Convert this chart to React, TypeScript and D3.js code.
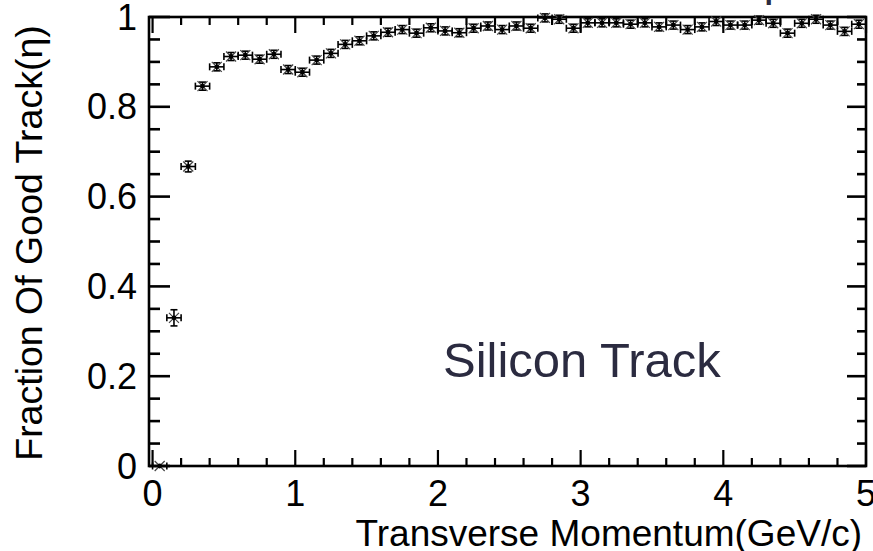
import React from "react";
import * as d3 from "d3";

const binCenters = [
  0.05, 0.15, 0.25, 0.35, 0.45, 0.55, 0.65, 0.75, 0.85, 0.95,
  1.05, 1.15, 1.25, 1.35, 1.45, 1.55, 1.65, 1.75, 1.85, 1.95,
  2.05, 2.15, 2.25, 2.35, 2.45, 2.55, 2.65, 2.75, 2.85, 2.95,
  3.05, 3.15, 3.25, 3.35, 3.45, 3.55, 3.65, 3.75, 3.85, 3.95,
  4.05, 4.15, 4.25, 4.35, 4.45, 4.55, 4.65, 4.75, 4.85, 4.95,
];
const fraction = [
  0.0, 0.33, 0.667, 0.846, 0.889, 0.912, 0.915, 0.906, 0.917, 0.883,
  0.877, 0.904, 0.919, 0.939, 0.947, 0.958, 0.966, 0.972, 0.964, 0.976,
  0.969, 0.965, 0.975, 0.98, 0.972, 0.98, 0.975, 0.998, 0.995, 0.975,
  0.987, 0.987, 0.987, 0.984, 0.987, 0.978, 0.982, 0.972, 0.978, 0.99,
  0.982, 0.982, 0.993, 0.986, 0.964, 0.986, 0.995, 0.982, 0.968, 0.984,
];
const fractionErr = [
  0.0, 0.018, 0.012, 0.009, 0.008, 0.008, 0.008, 0.008, 0.008, 0.008,
  0.008, 0.008, 0.008, 0.008, 0.007, 0.006, 0.006, 0.006, 0.006, 0.006,
  0.006, 0.006, 0.006, 0.006, 0.006, 0.006, 0.006, 0.004, 0.004, 0.006,
  0.006, 0.006, 0.006, 0.006, 0.006, 0.006, 0.006, 0.006, 0.006, 0.005,
  0.006, 0.006, 0.005, 0.006, 0.009, 0.006, 0.005, 0.006, 0.009, 0.006,
];
const binHalfWidth = 0.05;
const xTickLabels = ["0", "1", "2", "3", "4", "5"];
const yTickLabels = ["0", "0.2", "0.4", "0.6", "0.8", "1"];

const W = 873;
const H = 551;
const FONT = "'Liberation Sans', Arial, Helvetica, sans-serif";

export default function App() {
  const x = d3.scaleLinear().domain([-0.025, 5]).range([149, 866]);
  const y = d3.scaleLinear().domain([0, 1]).range([466, 17]);

  const xMajor = xTickLabels.map((t) => +t);
  const xMinor = d3.range(0, 26).map((i) => i * 0.2).filter((v) => Math.abs(v - Math.round(v)) > 1e-6);
  const yMajor = yTickLabels.map((t) => +t);
  const yMinor = d3.range(0, 21).map((i) => i * 0.05).filter((v) => Math.abs(v * 5 - Math.round(v * 5)) > 1e-6);

  const [x0, x1] = x.range();
  const [y0, y1] = y.range();

  return (
    <svg
      width={W}
      height={H}
      viewBox={`0 0 ${W} ${H}`}
      style={{ position: "absolute", left: 0, top: 0, background: "#fff" }}
    >
      <rect x={0} y={0} width={W} height={H} fill="#fff" />
      {/* fragment of cropped title */}
      <text x={763.5} y={-5} fontFamily={FONT} fontSize={47} fill="#2b2b40">p</text>

      {/* ticks */}
      <g stroke="#000" strokeWidth={2.2}>
        {xMajor.map((v) => (
          <g key={"xM" + v}>
            <line x1={x(v)} x2={x(v)} y1={y0} y2={y0 - 16} />
            <line x1={x(v)} x2={x(v)} y1={y1} y2={y1 + 16} />
          </g>
        ))}
        {xMinor.map((v) => (
          <g key={"xm" + v}>
            <line x1={x(v)} x2={x(v)} y1={y0} y2={y0 - 8} />
            <line x1={x(v)} x2={x(v)} y1={y1} y2={y1 + 8} />
          </g>
        ))}
      </g>
      <g stroke="#000" strokeWidth={2.6}>
        {yMajor.map((v) => (
          <g key={"yM" + v}>
            <line x1={x0} x2={x0 + 21} y1={y(v)} y2={y(v)} />
            <line x1={x1} x2={x1 - 19} y1={y(v)} y2={y(v)} />
          </g>
        ))}
        {yMinor.map((v) => (
          <g key={"ym" + v}>
            <line x1={x0} x2={x0 + 11} y1={y(v)} y2={y(v)} />
            <line x1={x1} x2={x1 - 9} y1={y(v)} y2={y(v)} />
          </g>
        ))}
      </g>

      {/* frame */}
      <rect x={x0} y={y1} width={x1 - x0} height={y0 - y1} fill="none" stroke="#000" strokeWidth={2.6} />

      {/* data points */}
      {binCenters.map((c, i) => {
        const cx = x(c);
        const cy = y(fraction[i]);
        const xl = x(c - binHalfWidth) - cx;
        const xr = x(c + binHalfWidth) - cx;
        const ePx = Math.max(y(0) - y(fractionErr[i]), 4);
        const r = 5;
        return (
          <g key={"p" + i} transform={`translate(${cx},${cy})`}>
            <g stroke="#000" strokeWidth={1.6}>
              <line x1={xl} x2={xr} y1={0} y2={0} />
              <line x1={xl} x2={xl} y1={-3.5} y2={3.5} />
              <line x1={xr} x2={xr} y1={-3.5} y2={3.5} />
              {fractionErr[i] > 0 && (
                <>
                  <line x1={0} x2={0} y1={-ePx} y2={ePx} />
                  <line x1={-3.5} x2={3.5} y1={-ePx} y2={-ePx} />
                  <line x1={-3.5} x2={3.5} y1={ePx} y2={ePx} />
                </>
              )}
            </g>
            <g stroke="#444" strokeWidth={1.2}>
              <line x1={-r} x2={r} y1={-r} y2={r} />
              <line x1={-r} x2={r} y1={r} y2={-r} />
            </g>
            <circle r={2.4} fill="#000" />
          </g>
        );
      })}

      {/* tick labels */}
      <g fontFamily={FONT} fontSize={36} fill="#000">
        {xTickLabels.map((t, i) => (
          <text key={"xl" + t} x={x(xMajor[i])} y={506} textAnchor="middle">{t}</text>
        ))}
        {yTickLabels.map((t, i) => (
          <text key={"yl" + t} x={137} y={y(yMajor[i])} textAnchor="end" dominantBaseline="central">{t}</text>
        ))}
      </g>

      {/* axis titles */}
      <text x={862} y={546} textAnchor="end" fontFamily={FONT} fontSize={37} fill="#000">
        Transverse Momentum(GeV/c)
      </text>
      <text
        transform={`translate(42,243) rotate(-90)`}
        textAnchor="middle"
        fontFamily={FONT}
        fontSize={37.5}
        fill="#000"
      >
        Fraction Of Good Track(η)
      </text>

      {/* annotation */}
      <text x={443} y={377} fontFamily={FONT} fontSize={49} fill="#2b2b40">Silicon Track</text>
    </svg>
  );
}
